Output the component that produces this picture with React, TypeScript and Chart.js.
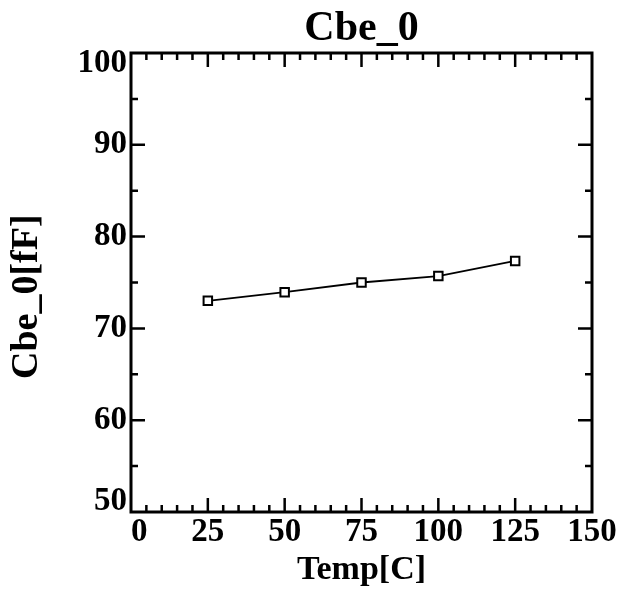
import React, { useEffect, useRef } from 'react';
import { Chart, registerables } from 'chart.js';

Chart.register(...registerables);

// ---- data ----
const temps = [25, 50, 75, 100, 125];
const cbe0 = [73.0, 73.95, 75.0, 75.7, 77.35];
const chartTitle = 'Cbe_0';
const xTitle = 'Temp[C]';
const yTitle = 'Cbe_0[fF]';
const xMin = 0;
const xMax = 150;
const xMajor = 25;
const xMinor = 5;
const yMin = 50;
const yMax = 100;
const yMajor = 10;
const yMinor = 5;

const FONT = "'Liberation Serif', 'Times New Roman', serif";

const frameTicksPlugin = {
  id: 'frameTicks',
  afterDraw(chart: any) {
    const { ctx, chartArea } = chart;
    const { left, right, top, bottom } = chartArea;
    const xs = chart.scales.x;
    const ys = chart.scales.y;
    ctx.save();
    ctx.strokeStyle = '#000';
    ctx.lineCap = 'butt';
    ctx.lineWidth = 2.5;
    ctx.beginPath();
    xs.ticks.forEach((t: any) => {
      const v = t.value;
      if (v <= xMin || v >= xMax) return;
      const p = xs.getPixelForValue(v);
      const len = Math.abs(v % xMajor) < 1e-6 ? 14 : 7;
      ctx.moveTo(p, bottom);
      ctx.lineTo(p, bottom - len);
      ctx.moveTo(p, top);
      ctx.lineTo(p, top + len);
    });
    ys.ticks.forEach((t: any) => {
      const v = t.value;
      if (v <= yMin || v >= yMax) return;
      const p = ys.getPixelForValue(v);
      const len = Math.abs(v % yMajor) < 1e-6 ? 14 : 7;
      ctx.moveTo(left, p);
      ctx.lineTo(left + len, p);
      ctx.moveTo(right, p);
      ctx.lineTo(right - len, p);
    });
    ctx.stroke();
    ctx.lineWidth = 3;
    ctx.strokeRect(left, top, right - left, bottom - top);
    ctx.restore();
  },
};

export default function App() {
  const ref = useRef<HTMLCanvasElement>(null);

  useEffect(() => {
    if (!ref.current) return;
    const chart = new Chart(ref.current, {
      type: 'line',
      data: {
        datasets: [
          {
            data: temps.map((x, i) => ({ x, y: cbe0[i] })),
            borderColor: '#000',
            borderWidth: 1.8,
            tension: 0,
            pointStyle: 'rect',
            pointRadius: 6,
            pointBorderWidth: 2,
            pointBackgroundColor: '#fff',
            pointBorderColor: '#000',
          },
        ],
      },
      options: {
        responsive: false,
        animation: false,
        events: [],
        layout: { padding: { left: 0, top: 0, right: 29, bottom: 0 } },
        plugins: {
          legend: { display: false },
          title: { display: false },
          tooltip: { enabled: false },
        },
        scales: {
          x: {
            type: 'linear',
            position: 'bottom',
            min: xMin,
            max: xMax,
            grid: { display: false, drawTicks: false },
            border: { display: false },
            ticks: {
              stepSize: xMinor,
              autoSkip: false,
              maxRotation: 0,
              minRotation: 0,
              padding: 4,
              color: '#000',
              font: { family: FONT, size: 33, weight: 'bold', lineHeight: 1 },
              callback: (v: any) => {
                const n = Number(v);
                if (Math.abs(n % xMajor) > 1e-6) return '';
                return n === xMin ? '  ' + n : String(n);
              },
            },
            title: {
              display: true,
              text: xTitle,
              color: '#000',
              font: { family: FONT, size: 34, weight: 'bold', lineHeight: 1 },
              padding: { top: 0, bottom: 5 },
            },
            afterFit: (s: any) => {
              s.height = 80;
            },
          },
          x2: {
            type: 'linear',
            position: 'top',
            min: xMin,
            max: xMax,
            grid: { display: false, drawTicks: false },
            border: { display: false },
            ticks: { display: false },
            title: {
              display: true,
              text: chartTitle,
              color: '#000',
              font: { family: FONT, size: 42, weight: 'bold', lineHeight: 1 },
              padding: { top: 8, bottom: 0 },
            },
            afterFit: (s: any) => {
              s.height = 53;
            },
          },
          y: {
            type: 'linear',
            position: 'left',
            min: yMin,
            max: yMax,
            grid: { display: false, drawTicks: false },
            border: { display: false },
            ticks: {
              stepSize: yMinor,
              autoSkip: false,
              padding: 4,
              color: '#000',
              font: (c: any) => {
                const v = c.tick ? c.tick.value : 0;
                const edge = v === yMax || v === yMin;
                return { family: FONT, size: 33, weight: 'bold', lineHeight: edge ? '21px' : 1 };
              },
              callback: (v: any) => {
                const n = Number(v);
                if (Math.abs(n % yMajor) > 1e-6) return '';
                if (n === yMax) return ['', String(n)];
                if (n === yMin) return [String(n), ''];
                return String(n);
              },
            },
            title: {
              display: true,
              text: yTitle + '   ',
              color: '#000',
              font: { family: FONT, size: 38, weight: 'bold', lineHeight: 1 },
              padding: { top: 8, bottom: 0 },
            },
            afterFit: (s: any) => {
              s.width = 131;
            },
          },
        },
      } as any,
      plugins: [frameTicksPlugin],
    });
    return () => chart.destroy();
  }, []);

  return (
    <canvas
      ref={ref}
      width={621}
      height={592}
      style={{ position: 'absolute', left: 0, top: 0, width: 621, height: 592, display: 'block' }}
    />
  );
}
